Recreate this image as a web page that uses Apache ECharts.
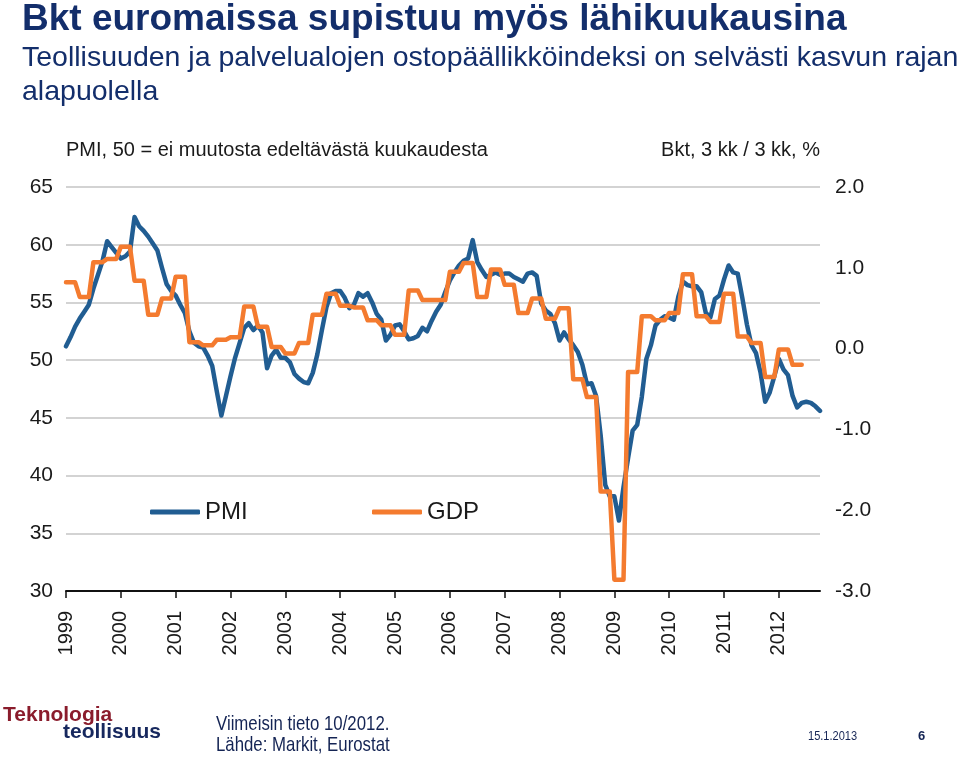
<!DOCTYPE html>
<html>
<head>
<meta charset="utf-8">
<script src="https://cdn.jsdelivr.net/npm/echarts@6/dist/echarts.min.js"></script>
<style>
html,body{margin:0;padding:0;background:#ffffff;}
#chart{width:960px;height:757px;}
</style>
</head>
<body>
<div id="chart"></div>
<script>
// ---- Data ----
const years = [1999,2000,2001,2002,2003,2004,2005,2006,2007,2008,2009,2010,2011,2012];
const xTickLabels = ['1999','2000','2001','2002','2003','2004','2005','2006','2007','2008','2009','2010','2011','2012'];
const monthsInLastYear = 10; // data through 10/2012

// Composite PMI, monthly (Jan 1999 - Oct 2012)
const pmiValues = [
  51.2, 52.0, 52.9, 53.6, 54.2, 54.8, 56.2, 57.4, 58.6, 60.3, 59.8, 59.3,
  58.8, 59.0, 59.4, 62.4, 61.6, 61.2, 60.7, 60.1, 59.5, 58.0, 56.6, 56.0,
  55.6, 54.8, 54.1, 52.5, 51.5, 51.2, 51.1, 50.4, 49.5, 47.3, 45.2, 46.9,
  48.6, 50.2, 51.5, 52.8, 53.2, 52.6, 53.0, 52.4, 49.3, 50.4, 50.9, 50.2,
  50.2, 49.8, 48.8, 48.4, 48.1, 48.0, 48.9, 50.5, 52.6, 54.6, 55.8, 56.0,
  56.0, 55.4, 54.5, 54.8, 55.8, 55.5, 55.8, 55.0, 54.0, 53.5, 51.7, 52.2,
  53.0, 53.1, 52.5, 51.8, 51.9, 52.1, 52.8, 52.5, 53.4, 54.2, 54.8, 55.9,
  56.9, 57.6, 58.2, 58.6, 58.8, 60.4, 58.5, 57.8, 57.2, 57.4, 57.6, 57.4,
  57.5, 57.5, 57.2, 57.0, 56.8, 57.5, 57.6, 57.3, 54.9, 54.3, 54.0, 53.2,
  51.7, 52.4, 51.8, 51.3, 50.7, 49.6, 47.9, 48.0, 46.9, 43.5, 39.2, 38.2,
  38.2, 36.1, 39.0, 41.5, 43.9, 44.4, 46.8, 50.1, 51.3, 53.0, 53.5, 53.8,
  53.7, 53.5, 55.5, 56.8, 56.5, 56.4, 56.4, 55.9, 54.1, 53.7, 55.3, 55.6,
  57.0, 58.2, 57.6, 57.5, 55.4, 53.1, 51.3, 50.6, 48.9, 46.4, 47.2, 48.6,
  50.1, 49.2, 48.7, 46.9, 45.9, 46.3, 46.4, 46.3, 46.0, 45.6
];

// GDP, q/q %, quarterly (Q1 1999 - Q2 2012)
const gdpQuarterly = [
  0.82, 0.64, 1.07, 1.11,
  1.26, 0.84, 0.42, 0.62,
  0.89, 0.08, 0.04, 0.11,
  0.14, 0.52, 0.27, 0.02,
  -0.06, 0.07, 0.42, 0.68,
  0.53, 0.51, 0.35, 0.29,
  0.17, 0.72, 0.60, 0.60,
  0.95, 1.06, 0.64, 0.98,
  0.79, 0.44, 0.62, 0.37,
  0.50, -0.38, -0.60, -1.77,
  -2.86, -0.29, 0.40, 0.35,
  0.44, 0.92, 0.40, 0.33,
  0.68, 0.15, 0.07, -0.35,
  -0.01, -0.20
];

// ---- Build monthly categories and GDP monthly steps ----
const categories = [];
years.forEach(function (y, i) {
  const n = (i === years.length - 1) ? monthsInLastYear : 12;
  for (let m = 1; m <= n; m++) categories.push(y + '-' + (m < 10 ? '0' + m : m));
});
const gdpMonthly = [];
gdpQuarterly.forEach(function (v) { gdpMonthly.push(v, v, v); });

const FONT = '"Liberation Sans", Arial, Helvetica, sans-serif';
const NAVY = '#132E6B';
const BLUE = '#215D92';
const ORANGE = '#F47B2F';

const chart = echarts.init(document.getElementById('chart'), null, {renderer: 'canvas'});
const yearTick = function (i) { return i % 12 === 0; };

chart.setOption({
  animation: false,
  backgroundColor: '#ffffff',
  textStyle: {fontFamily: FONT},
  grid: {left: 66, right: 140, top: 187, bottom: 166, containLabel: false, outerBoundsMode: 'none'},
  xAxis: {
    type: 'category',
    data: categories,
    boundaryGap: false,
    axisLine: {show: true, onZero: false, lineStyle: {color: '#111111', width: 2}},
    axisTick: {show: true, interval: yearTick, length: 7, lineStyle: {color: '#111111', width: 1.5}},
    axisLabel: {
      interval: yearTick, rotate: 90, margin: 20, fontSize: 20, color: '#1a1a1a', fontFamily: FONT,
      formatter: function (v) { return xTickLabels[years.indexOf(+v.slice(0, 4))]; }
    },
    splitLine: {show: false}
  },
  yAxis: [
    {
      type: 'value', min: 30, max: 65, interval: 5, position: 'left',
      axisLine: {show: false}, axisTick: {show: false},
      axisLabel: {fontSize: 21, color: '#1a1a1a', margin: 13, fontFamily: FONT},
      splitLine: {show: true, lineStyle: {color: '#c4c4c4', width: 1.5}}
    },
    {
      type: 'value', min: -3, max: 2, interval: 1, position: 'right',
      axisLine: {show: false}, axisTick: {show: false},
      axisLabel: {fontSize: 21, color: '#1a1a1a', margin: 15, fontFamily: FONT,
        formatter: function (v) { return v.toFixed(1); }},
      splitLine: {show: false}
    }
  ],
  legend: [
    {data: ['PMI'], left: 145, top: 495, icon: 'roundRect', itemWidth: 50, itemHeight: 5,
      textStyle: {fontSize: 24, color: '#1a1a1a', fontFamily: FONT}},
    {data: ['GDP'], left: 367, top: 495, icon: 'roundRect', itemWidth: 50, itemHeight: 5,
      textStyle: {fontSize: 24, color: '#1a1a1a', fontFamily: FONT}}
  ],
  series: [
    {
      name: 'PMI', type: 'line', data: pmiValues, yAxisIndex: 0, symbol: 'none', smooth: false,
      lineStyle: {width: 4.5, color: BLUE, cap: 'round', join: 'round'}, itemStyle: {color: BLUE}
    },
    {
      name: 'GDP', type: 'line', data: gdpMonthly, yAxisIndex: 1, symbol: 'none', smooth: false,
      lineStyle: {width: 4.5, color: ORANGE, cap: 'round', join: 'round'}, itemStyle: {color: ORANGE}
    }
  ],
  graphic: [
    {type: 'text', x: 22, y: 20, style: {text: 'Bkt euromaissa supistuu myös lähikuukausina',
      font: 'bold 37px ' + FONT, fill: NAVY, align: 'left', verticalAlign: 'middle', textAlign: 'left', textVerticalAlign: 'middle'}},
    {type: 'text', x: 22, y: 58, style: {text: 'Teollisuuden ja palvelualojen ostopäällikköindeksi on selvästi kasvun rajan',
      font: '28.5px ' + FONT, fill: NAVY, align: 'left', verticalAlign: 'middle', textAlign: 'left', textVerticalAlign: 'middle'}},
    {type: 'text', x: 22, y: 92, style: {text: 'alapuolella',
      font: '28.5px ' + FONT, fill: NAVY, align: 'left', verticalAlign: 'middle', textAlign: 'left', textVerticalAlign: 'middle'}},
    {type: 'text', x: 66, y: 150, style: {text: 'PMI, 50 = ei muutosta edeltävästä kuukaudesta',
      font: '20px ' + FONT, fill: '#1a1a1a', align: 'left', verticalAlign: 'middle', textAlign: 'left', textVerticalAlign: 'middle'}},
    {type: 'text', x: 820, y: 150, style: {text: 'Bkt, 3 kk / 3 kk, %',
      font: '20px ' + FONT, fill: '#1a1a1a', align: 'right', verticalAlign: 'middle', textAlign: 'right', textVerticalAlign: 'middle'}},
    {type: 'text', x: 3, y: 715, style: {text: 'Teknologia',
      font: 'bold 21px ' + FONT, fill: '#8A1C2C', align: 'left', verticalAlign: 'middle', textAlign: 'left', textVerticalAlign: 'middle'}},
    {type: 'text', x: 63, y: 732, style: {text: 'teollisuus',
      font: 'bold 21px ' + FONT, fill: '#17285E', align: 'left', verticalAlign: 'middle', textAlign: 'left', textVerticalAlign: 'middle'}},
    {type: 'text', x: 216, y: 724, scaleX: 0.8, style: {text: 'Viimeisin tieto 10/2012.',
      font: '21px ' + FONT, fill: '#142454', align: 'left', verticalAlign: 'middle', textAlign: 'left', textVerticalAlign: 'middle'}},
    {type: 'text', x: 216, y: 745, scaleX: 0.8, style: {text: 'Lähde: Markit, Eurostat',
      font: '21px ' + FONT, fill: '#142454', align: 'left', verticalAlign: 'middle', textAlign: 'left', textVerticalAlign: 'middle'}},
    {type: 'text', x: 808, y: 736, scaleX: 0.85, style: {text: '15.1.2013',
      font: '13px ' + FONT, fill: '#142454', align: 'left', verticalAlign: 'middle', textAlign: 'left', textVerticalAlign: 'middle'}},
    {type: 'text', x: 918, y: 736, style: {text: '6',
      font: 'bold 13px ' + FONT, fill: '#142454', align: 'left', verticalAlign: 'middle', textAlign: 'left', textVerticalAlign: 'middle'}}
  ]
});
</script>
</body>
</html>
